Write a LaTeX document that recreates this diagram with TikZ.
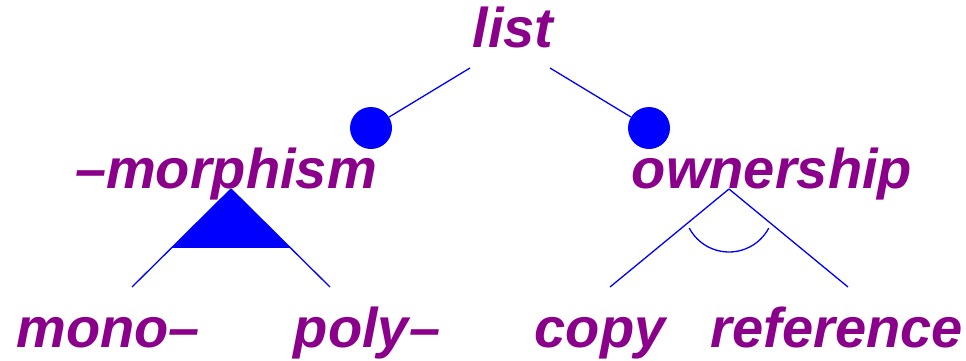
\documentclass[tikz,border=0pt]{standalone}
\usepackage{fontspec}
\setmainfont{Liberation Sans}
\usetikzlibrary{calc}
\definecolor{lab}{RGB}{139,0,139}
\definecolor{ln}{RGB}{0,0,255}
\begin{document}
\begin{tikzpicture}[x=1pt,y=-1pt,
  lbl/.style={anchor=base,inner sep=0pt,text=lab,font=\fontsize{56}{60}\selectfont\bfseries\itshape},
  conn/.style={draw=ln,line width=1.3pt},
  dot/.style={circle,fill=ln,minimum size=42pt,inner sep=0pt}]
\useasboundingbox (0,0) rectangle (966,360);
% labels
\node[lbl] (list) at (513,47) {list};
\node[lbl] (morph) at (226,188) {--morphism};
\node[lbl] (own) at (772,188) {ownership};
\node[lbl] (mono) at (108,347) {mono--};
\node[lbl] (poly) at (367,347) {poly--};
\node[lbl] (copy) at (600,347) {copy};
\node[lbl] (ref) at (837,347) {reference};
% optional features
\coordinate (l1) at (470,68);
\coordinate (l2) at (550,68);
\node[dot] (d1) at (371,128) {};
\node[dot] (d2) at (649,128) {};
\draw[conn] (l1) -- (d1);
\draw[conn] (l2) -- (d2);
% or group
\coordinate (ma) at (231,189);
\coordinate (m1) at (132,287);
\coordinate (m2) at (330,287);
\draw[conn] (ma) -- (m1);
\draw[conn] (ma) -- (m2);
\fill[ln] (ma) -- ($(ma)!0.6!(m1)$) -- ($(ma)!0.6!(m2)$) -- cycle;
% alternative group
\coordinate (oa) at (729,189);
\coordinate (o1) at (610,287);
\coordinate (o2) at (848,287);
\draw[conn] (oa) -- (o1);
\draw[conn] (oa) -- (o2);
\coordinate (oc) at (729,207);
\draw[conn] ($(oc)+(208:45 and -45)$) arc[start angle=208,end angle=332,x radius=45,y radius=-45];
\end{tikzpicture}
\end{document}
